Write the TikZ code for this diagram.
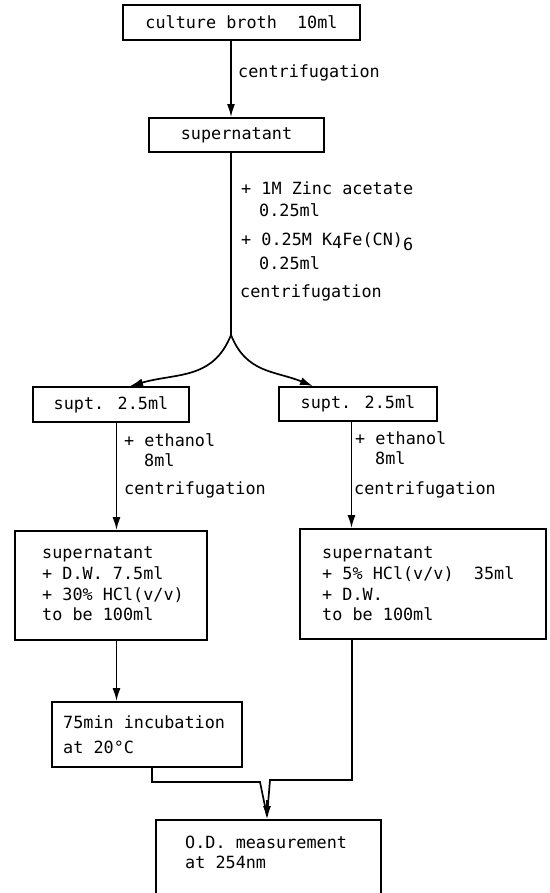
\documentclass[tikz,border=0pt]{standalone}
\usepackage{fontspec}
\setmainfont{DejaVu Sans Mono}
\usetikzlibrary{arrows.meta,calc}
\begin{document}
\begin{tikzpicture}[x=1pt,y=1pt,
  every node/.style={font=\fontsize{16.8}{20.7}\selectfont, inner sep=0pt},
  box/.style={draw, line width=1.8pt, rectangle, inner sep=0pt},
  txt/.style={anchor=west, align=left},
  arr/.style={line width=1.7pt, -{Latex[length=13pt,width=8pt]}},
  con/.style={line width=1.7pt},
]
\useasboundingbox (0,0) rectangle (549,-893);
\clip (0,0) rectangle (549,-893);

% boxes
\node[box, minimum width=237pt, minimum height=35pt] (b1) at (241.5,-22.5) {culture broth\ \ 10ml};
\node[box, minimum width=175pt, minimum height=34pt] (b2) at (236.5,-135) {supernatant};
\node[box, minimum width=156pt, minimum height=35pt] (s1) at (111,-404.5) {supt. 2.5ml};
\node[box, minimum width=158pt, minimum height=34pt] (s2) at (358,-404) {supt. 2.5ml};
\node[box, minimum width=192pt, minimum height=109pt] (b3L) at (111,-585.5) {};
\node[box, minimum width=246pt, minimum height=110pt] (b3R) at (423,-584) {};
\node[box, minimum width=190pt, minimum height=65pt] (inc) at (147,-734.5) {};
\node[box, minimum width=225pt, minimum height=77pt] (fin) at (268.5,-858.5) {};

% box texts
\node[txt] (t3L) at (42,-584) {supernatant\\+ D.W. 7.5ml\\+ 30\% HCl(v/v)\\to be 100ml};
\node[txt] (t3R) at (322,-584) {supernatant\\+ 5\% HCl(v/v)\ \ 35ml\\+ D.W.\\to be 100ml};
\node[txt, font=\fontsize{16.8}{25}\selectfont] (tinc) at (63,-734.5) {75min incubation\\at 20°C};
\node[txt, font=\fontsize{16.8}{19.5}\selectfont] (tfin) at (185,-852.5) {O.D. measurement\\at 254nm};

% labels
\node[txt] (l1) at (238,-73) {centrifugation};
\node[txt] (r1) at (241,-188) {+ 1M Zinc acetate};
\node[txt] (r2) at (259,-210) {0.25ml};
\node[txt] (r3) at (241,-242) {+ 0.25M K\raisebox{-0.25ex}{4}Fe(CN)\raisebox{-0.5ex}{6}};
\node[txt] (r4) at (259,-263) {0.25ml};
\node[txt] (r5) at (240,-293) {centrifugation};
\node[txt] (el1) at (124,-440) {+ ethanol};
\node[txt] (el2) at (144,-460) {8ml};
\node[txt] (el3) at (124,-490) {centrifugation};
\node[txt] (er1) at (355,-438) {+ ethanol};
\node[txt] (er2) at (375,-458) {8ml};
\node[txt] (er3) at (354,-490) {centrifugation};

% connectors
\coordinate (j) at (231,-335);
\draw[arr] (b1.south -| j) -- (b2.north -| j);
\draw[con] (b2.south -| j) -- (j);
\draw[arr] (j) to[out=-112,in=16,looseness=1.1] ($(s1.north)+(19,0)$);
\draw[arr] (j) to[out=-68,in=158,looseness=1.1] ($(s2.north)+(-45,0)$);

\coordinate (xl) at (116.5,0);
\coordinate (xr) at (351.5,0);
\draw[arr] (s1.south -| xl) -- (b3L.north -| xl);
\draw[arr] (b3L.south -| xl) -- (inc.north -| xl);
\draw[arr] (s2.south -| xr) -- (b3R.north -| xr);

\coordinate (lb) at (152,-782);
\coordinate (lc) at (260,-782);
\coordinate (rb) at (352,-780);
\coordinate (rc) at (270,-780);
\coordinate (tp) at (267,-816);
\coordinate (ah) at (267,-800);
\draw[con, line join=miter] (inc.south -| lb) -- (lb) -- (lc) -- (tp);
\draw[con, line join=miter] (b3R.south -| rb) -- (rb) -- (rc) -- (tp);
\draw[arr] (ah) -- (fin.north -| ah);
\end{tikzpicture}
\end{document}
